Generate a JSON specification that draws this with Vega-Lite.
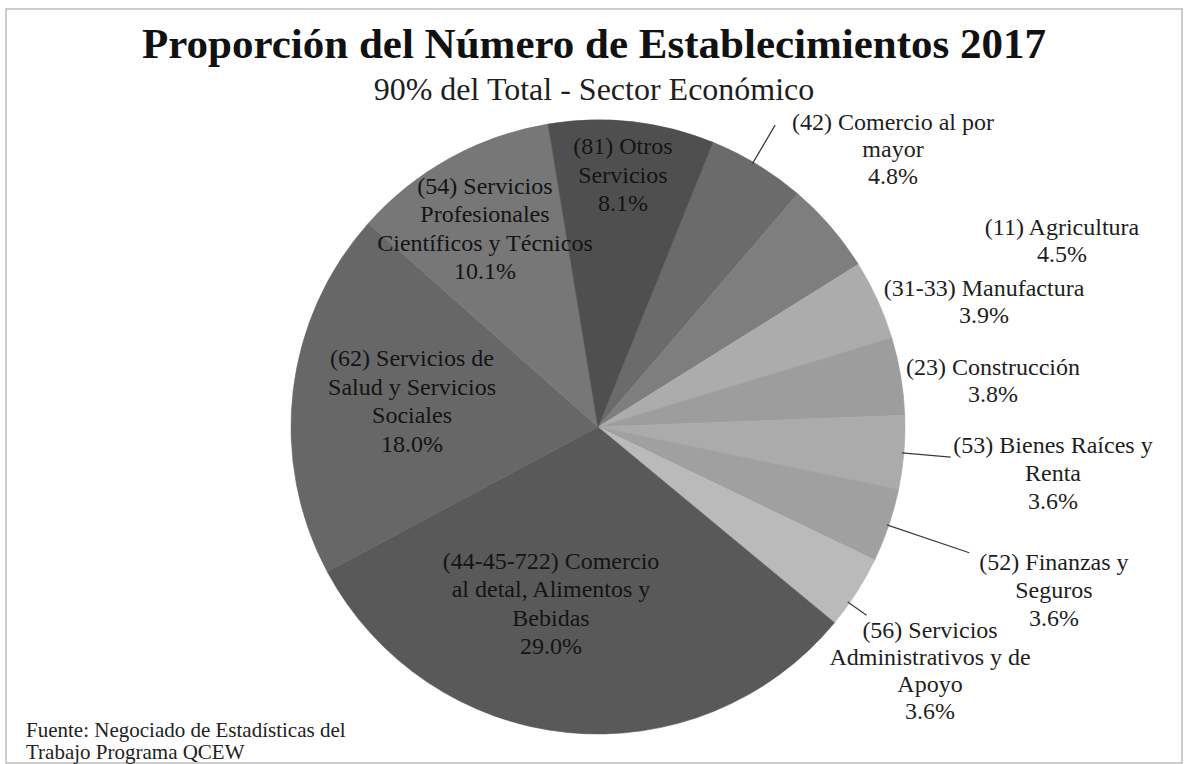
{
  "$schema": "https://vega.github.io/schema/vega-lite/v6.json",
  "padding": {"left": 5, "right": 5, "top": 8, "bottom": 2},
  "background": "white",
  "title": {
    "text": "Proporción del Número de Establecimientos 2017",
    "subtitle": "90% del Total - Sector Económico",
    "font": "Liberation Serif",
    "fontSize": 43,
    "fontWeight": "bold",
    "color": "#111111",
    "subtitleFont": "Liberation Serif",
    "subtitleFontSize": 32,
    "subtitleColor": "#1e1e1e",
    "subtitlePadding": 8,
    "anchor": "middle",
    "offset": -98
  },
  "config": {"concat": {"spacing": 0}},
  "vconcat": [
    {
      "width": 1176,
      "height": 754,
      "view": {"stroke": "#bdbdbd", "strokeWidth": 1.5},
      "title": {
        "text": ["Fuente: Negociado de Estadísticas del", "Trabajo Programa QCEW"],
        "orient": "bottom",
        "anchor": "start",
        "align": "left",
        "dx": 20,
        "offset": -43,
        "font": "Liberation Serif",
        "fontSize": 21,
        "fontWeight": "normal",
        "color": "#222222",
        "lineHeight": 22
      },
      "data": {
        "values": [
          {"ord": 1, "code": "42", "pct": 4.8, "label": "(42) Comercio al por\nmayor\n4.8%"},
          {"ord": 2, "code": "11", "pct": 4.5, "label": "(11) Agricultura\n4.5%"},
          {"ord": 3, "code": "31-33", "pct": 3.9, "label": "(31-33) Manufactura\n3.9%"},
          {"ord": 4, "code": "23", "pct": 3.8, "label": "(23) Construcción\n3.8%"},
          {"ord": 5, "code": "53", "pct": 3.6, "label": "(53) Bienes Raíces y\nRenta\n3.6%"},
          {"ord": 6, "code": "52", "pct": 3.6, "label": "(52) Finanzas y\nSeguros\n3.6%"},
          {"ord": 7, "code": "56", "pct": 3.6, "label": "(56) Servicios\nAdministrativos y de\nApoyo\n3.6%"},
          {"ord": 8, "code": "44-45-722", "pct": 29.0, "label": "(44-45-722) Comercio\nal detal, Alimentos y\nBebidas\n29.0%"},
          {"ord": 9, "code": "62", "pct": 18.0, "label": "(62) Servicios de\nSalud y Servicios\nSociales\n18.0%"},
          {"ord": 10, "code": "54", "pct": 10.1, "label": "(54) Servicios\nProfesionales\nCientíficos y Técnicos\n10.1%"},
          {"ord": 11, "code": "81", "pct": 8.1, "label": "(81) Otros\nServicios\n8.1%"}
        ]
      },
      "layer": [
        {
          "mark": {"type": "arc", "radius": 307, "strokeWidth": 0.6, "xOffset": 4, "yOffset": 41},
          "encoding": {
            "theta": {"field": "pct", "type": "quantitative", "stack": true, "scale": {"type": "linear", "domain": [0, 93], "nice": false, "range": [0.384, 6.667]}},
            "order": {"field": "ord", "type": "quantitative"},
            "fill": {"field": "code", "type": "nominal", "legend": null,
              "scale": {"domain": ["42", "11", "31-33", "23", "53", "52", "56", "44-45-722", "62", "54", "81"],
                        "range": ["#6b6b6b", "#7e7e7e", "#acacac", "#9d9d9d", "#ababab", "#a0a0a0", "#bababa", "#595959", "#676767", "#777777", "#4f4f4f"]}},
            "stroke": {"field": "code", "type": "nominal", "legend": null,
              "scale": {"domain": ["42", "11", "31-33", "23", "53", "52", "56", "44-45-722", "62", "54", "81"],
                        "range": ["#6b6b6b", "#7e7e7e", "#acacac", "#9d9d9d", "#ababab", "#a0a0a0", "#bababa", "#595959", "#676767", "#777777", "#4f4f4f"]}}
          }
        },
        {
          "transform": [{"stack": "pct", "groupby": [], "sort": [{"field": "ord", "order": "ascending"}], "as": ["v0", "v1"]}, {"filter": "datum.code === '42'"}],
          "mark": {"type": "arc", "filled": false, "stroke": "#3a3a3a", "strokeWidth": 1.2, "radius": 350, "radius2": 305, "padAngle": 1.0, "thetaOffset": -0.0312, "xOffset": 4, "yOffset": 41},
          "encoding": {"theta": {"field": "v0", "type": "quantitative"}, "theta2": {"field": "v1"}}
        },
        {
          "transform": [{"stack": "pct", "groupby": [], "sort": [{"field": "ord", "order": "ascending"}], "as": ["v0", "v1"]}, {"filter": "datum.code === '53'"}],
          "mark": {"type": "arc", "filled": false, "stroke": "#3a3a3a", "strokeWidth": 1.2, "radius": 354, "radius2": 305, "padAngle": 1.0, "thetaOffset": 0.0038, "xOffset": 4, "yOffset": 41},
          "encoding": {"theta": {"field": "v0", "type": "quantitative"}, "theta2": {"field": "v1"}}
        },
        {
          "transform": [{"stack": "pct", "groupby": [], "sort": [{"field": "ord", "order": "ascending"}], "as": ["v0", "v1"]}, {"filter": "datum.code === '52'"}],
          "mark": {"type": "arc", "filled": false, "stroke": "#3a3a3a", "strokeWidth": 1.2, "radius": 392, "radius2": 305, "padAngle": 1.0, "thetaOffset": 0.0, "xOffset": 4, "yOffset": 41},
          "encoding": {"theta": {"field": "v0", "type": "quantitative"}, "theta2": {"field": "v1"}}
        },
        {
          "transform": [{"stack": "pct", "groupby": [], "sort": [{"field": "ord", "order": "ascending"}], "as": ["v0", "v1"]}, {"filter": "datum.code === '56'"}],
          "mark": {"type": "arc", "filled": false, "stroke": "#3a3a3a", "strokeWidth": 1.2, "radius": 328, "radius2": 305, "padAngle": 1.0, "thetaOffset": 0.0835, "xOffset": 4, "yOffset": 41},
          "encoding": {"theta": {"field": "v0", "type": "quantitative"}, "theta2": {"field": "v1"}}
        },
        {
          "transform": [{"stack": "pct", "groupby": [], "sort": [{"field": "ord", "order": "ascending"}], "as": ["v0", "v1"]}, {"filter": "datum.code === '42'"}],
          "mark": {"type": "text", "radius": 423.6, "thetaOffset": 0.3864, "xOffset": 4, "yOffset": 41, "font": "Liberation Serif", "fontSize": 24, "lineHeight": 27, "lineBreak": "\n", "align": "center", "baseline": "middle", "fill": "#1e1e1e"},
          "encoding": {"theta": {"field": "v0", "type": "quantitative"}, "text": {"field": "label"}}
        },
        {
          "transform": [{"stack": "pct", "groupby": [], "sort": [{"field": "ord", "order": "ascending"}], "as": ["v0", "v1"]}, {"filter": "datum.code === '11'"}],
          "mark": {"type": "text", "radius": 504.9, "thetaOffset": 0.4575, "xOffset": 4, "yOffset": 41, "font": "Liberation Serif", "fontSize": 24, "lineHeight": 27, "lineBreak": "\n", "align": "center", "baseline": "middle", "fill": "#1e1e1e"},
          "encoding": {"theta": {"field": "v0", "type": "quantitative"}, "text": {"field": "label"}}
        },
        {
          "transform": [{"stack": "pct", "groupby": [], "sort": [{"field": "ord", "order": "ascending"}], "as": ["v0", "v1"]}, {"filter": "datum.code === '31-33'"}],
          "mark": {"type": "text", "radius": 409.9, "thetaOffset": 0.2152, "xOffset": 4, "yOffset": 41, "font": "Liberation Serif", "fontSize": 24, "lineHeight": 27, "lineBreak": "\n", "align": "center", "baseline": "middle", "fill": "#1e1e1e"},
          "encoding": {"theta": {"field": "v0", "type": "quantitative"}, "text": {"field": "label"}}
        },
        {
          "transform": [{"stack": "pct", "groupby": [], "sort": [{"field": "ord", "order": "ascending"}], "as": ["v0", "v1"]}, {"filter": "datum.code === '23'"}],
          "mark": {"type": "text", "radius": 399.4, "thetaOffset": 0.1466, "xOffset": 4, "yOffset": 41, "font": "Liberation Serif", "fontSize": 24, "lineHeight": 27, "lineBreak": "\n", "align": "center", "baseline": "middle", "fill": "#1e1e1e"},
          "encoding": {"theta": {"field": "v0", "type": "quantitative"}, "text": {"field": "label"}}
        },
        {
          "transform": [{"stack": "pct", "groupby": [], "sort": [{"field": "ord", "order": "ascending"}], "as": ["v0", "v1"]}, {"filter": "datum.code === '53'"}],
          "mark": {"type": "text", "radius": 455.4, "thetaOffset": 0.0799, "xOffset": 4, "yOffset": 41, "font": "Liberation Serif", "fontSize": 24, "lineHeight": 28, "lineBreak": "\n", "align": "center", "baseline": "middle", "fill": "#1e1e1e"},
          "encoding": {"theta": {"field": "v0", "type": "quantitative"}, "text": {"field": "label"}}
        },
        {
          "transform": [{"stack": "pct", "groupby": [], "sort": [{"field": "ord", "order": "ascending"}], "as": ["v0", "v1"]}, {"filter": "datum.code === '52'"}],
          "mark": {"type": "text", "radius": 475.8, "thetaOffset": 0.0850, "xOffset": 4, "yOffset": 41, "font": "Liberation Serif", "fontSize": 24, "lineHeight": 28, "lineBreak": "\n", "align": "center", "baseline": "middle", "fill": "#1e1e1e"},
          "encoding": {"theta": {"field": "v0", "type": "quantitative"}, "text": {"field": "label"}}
        },
        {
          "transform": [{"stack": "pct", "groupby": [], "sort": [{"field": "ord", "order": "ascending"}], "as": ["v0", "v1"]}, {"filter": "datum.code === '56'"}],
          "mark": {"type": "text", "radius": 389.7, "thetaOffset": 0.1028, "xOffset": 4, "yOffset": 41, "font": "Liberation Serif", "fontSize": 24, "lineHeight": 27, "lineBreak": "\n", "align": "center", "baseline": "middle", "fill": "#1e1e1e"},
          "encoding": {"theta": {"field": "v0", "type": "quantitative"}, "text": {"field": "label"}}
        },
        {
          "transform": [{"stack": "pct", "groupby": [], "sort": [{"field": "ord", "order": "ascending"}], "as": ["v0", "v1"]}, {"filter": "datum.code === '44-45-722'"}],
          "mark": {"type": "text", "radius": 142.9, "thetaOffset": 1.2146, "xOffset": 4, "yOffset": 41, "font": "Liberation Serif", "fontSize": 24, "lineHeight": 28.5, "lineBreak": "\n", "align": "center", "baseline": "middle", "fill": "#141414"},
          "encoding": {"theta": {"field": "v0", "type": "quantitative"}, "text": {"field": "label"}}
        },
        {
          "transform": [{"stack": "pct", "groupby": [], "sort": [{"field": "ord", "order": "ascending"}], "as": ["v0", "v1"]}, {"filter": "datum.code === '62'"}],
          "mark": {"type": "text", "radius": 198.0, "thetaOffset": 0.8414, "xOffset": 4, "yOffset": 41, "font": "Liberation Serif", "fontSize": 24, "lineHeight": 28.5, "lineBreak": "\n", "align": "center", "baseline": "middle", "fill": "#141414"},
          "encoding": {"theta": {"field": "v0", "type": "quantitative"}, "text": {"field": "label"}}
        },
        {
          "transform": [{"stack": "pct", "groupby": [], "sort": [{"field": "ord", "order": "ascending"}], "as": ["v0", "v1"]}, {"filter": "datum.code === '54'"}],
          "mark": {"type": "text", "radius": 265.3, "thetaOffset": 0.4056, "xOffset": 4, "yOffset": 41, "font": "Liberation Serif", "fontSize": 24, "lineHeight": 28.5, "lineBreak": "\n", "align": "center", "baseline": "middle", "fill": "#141414"},
          "encoding": {"theta": {"field": "v0", "type": "quantitative"}, "text": {"field": "label"}}
        },
        {
          "transform": [{"stack": "pct", "groupby": [], "sort": [{"field": "ord", "order": "ascending"}], "as": ["v0", "v1"]}, {"filter": "datum.code === '81'"}],
          "mark": {"type": "text", "radius": 281.1, "thetaOffset": 0.2522, "xOffset": 4, "yOffset": 41, "font": "Liberation Serif", "fontSize": 24, "lineHeight": 28.5, "lineBreak": "\n", "align": "center", "baseline": "middle", "fill": "#141414"},
          "encoding": {"theta": {"field": "v0", "type": "quantitative"}, "text": {"field": "label"}}
        }
      ]
    }
  ]
}
